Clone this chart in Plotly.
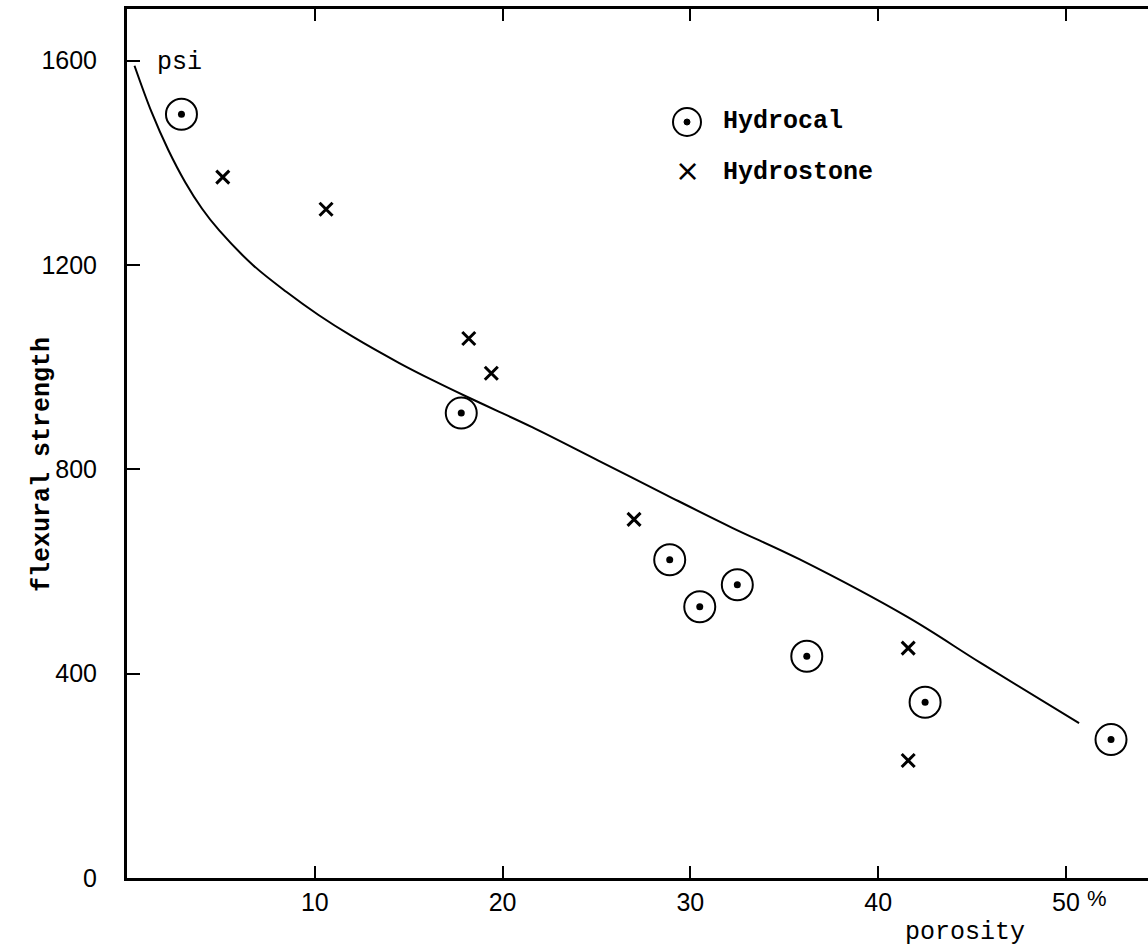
import plotly.graph_objects as go

# Flexural strength (psi) against porosity (%) for two gypsum plasters
hydrocal_x = [2.9, 17.8, 28.9, 30.5, 32.5, 36.2, 42.5, 52.4]
hydrocal_y = [1495, 910, 623, 531, 574, 434, 344, 271]

hydrostone_x = [5.1, 10.6, 18.2, 19.4, 27.0, 41.6, 41.6]
hydrostone_y = [1372, 1309, 1056, 988, 702, 450, 230]

# Hand-fitted trend curve
curve_x = [0.4, 1.3, 2.2, 3.1, 4.0, 4.9, 6.7, 8.5, 10.2, 12.0, 14.5, 16.3,
           18.1, 19.8, 21.6, 25.1, 28.7, 32.2, 35.8, 41.6, 45.5, 50.7]
curve_y = [1590, 1500, 1425, 1362, 1310, 1268, 1200, 1147, 1102, 1060, 1008, 974,
           942, 913, 882, 817, 750, 686, 624, 510, 420, 303]

x_ticks = [10, 20, 30, 40, 50]
y_ticks = [0, 400, 800, 1200, 1600]

MONO = "Liberation Mono"
SANS = "Liberation Sans"
INK = "black"

# plot-area geometry in pixels, used to place the key and the labels
L, T, W, H = 127, 9, 1021, 869


def px(x):
    return (x - L) / W


def py(y):
    return (T + H - y) / H


fig = go.Figure()

fig.add_trace(go.Scatter(
    x=curve_x, y=curve_y, mode="lines",
    line=dict(color=INK, width=2, shape="spline", smoothing=1.0),
    showlegend=False, hoverinfo="skip",
))

# Hydrocal: open circle with a centre dot
fig.add_trace(go.Scatter(
    x=hydrocal_x, y=hydrocal_y, mode="markers", name="Hydrocal",
    marker=dict(symbol="circle-open", size=31, color=INK, line=dict(width=2, color=INK)),
    showlegend=False,
))
fig.add_trace(go.Scatter(
    x=hydrocal_x, y=hydrocal_y, mode="markers",
    marker=dict(symbol="circle", size=7, color=INK),
    showlegend=False, hoverinfo="skip",
))

# Hydrostone: crosses
fig.add_trace(go.Scatter(
    x=hydrostone_x, y=hydrostone_y, mode="markers", name="Hydrostone",
    marker=dict(symbol="x-thin", size=13, color=INK, line=dict(width=3, color=INK)),
    showlegend=False,
))

fig.update_xaxes(
    range=[0, 54.37], showline=True, linecolor=INK, linewidth=3, mirror="ticks",
    ticks="inside", ticklen=12, tickwidth=2, tickcolor=INK,
    tickvals=x_ticks, ticktext=[str(v) for v in x_ticks],
    tickfont=dict(family=SANS, size=25, color=INK), ticklabelstandoff=0,
    showgrid=False, zeroline=False,
)
fig.update_yaxes(
    range=[0, 1701], showline=True, linecolor=INK, linewidth=3, mirror=False,
    ticks="inside", ticklen=13, tickwidth=2, tickcolor=INK,
    tickvals=y_ticks, ticktext=[str(v) for v in y_ticks],
    tickfont=dict(family=SANS, size=25, color=INK), ticklabelstandoff=22,
    showgrid=False, zeroline=False,
)

annotations = [
    dict(text="<b>flexural strength</b>", xref="paper", yref="paper",
         x=px(42), y=py(465), xanchor="center", yanchor="middle",
         textangle=-90, showarrow=False, font=dict(family=MONO, size=25, color=INK)),
    dict(text="porosity", xref="paper", yref="paper",
         x=px(965), y=py(932), xanchor="center", yanchor="middle",
         showarrow=False, font=dict(family=MONO, size=25, color=INK)),
    dict(text="psi", xref="paper", yref="paper",
         x=px(155), y=py(62), xanchor="left", yanchor="middle",
         showarrow=False, font=dict(family=MONO, size=25, color=INK)),
    dict(text="%", xref="paper", yref="paper",
         x=px(1097), y=py(898), xanchor="center", yanchor="middle",
         showarrow=False, font=dict(family=SANS, size=22, color=INK)),
    # key
    dict(text="<b>Hydrocal</b>", xref="paper", yref="paper",
         x=px(721), y=py(122), xanchor="left", yanchor="middle", showarrow=False,
         font=dict(family=MONO, size=25, color=INK)),
    dict(text="×", xref="paper", yref="paper",
         x=px(687), y=py(171), xanchor="center", yanchor="middle", showarrow=False,
         font=dict(family="DejaVu Sans", size=30, color=INK)),
    dict(text="<b>Hydrostone</b>", xref="paper", yref="paper",
         x=px(721), y=py(172), xanchor="left", yanchor="middle", showarrow=False,
         font=dict(family=MONO, size=25, color=INK)),
]

# key symbol for Hydrocal: ring with a dot
R, r = 14, 3
kx, ky = 687, 122
shapes = [
    dict(type="circle", xref="paper", yref="paper",
         x0=px(kx - R), x1=px(kx + R), y0=py(ky + R), y1=py(ky - R),
         line=dict(color=INK, width=2)),
    dict(type="circle", xref="paper", yref="paper",
         x0=px(kx - r), x1=px(kx + r), y0=py(ky + r), y1=py(ky - r),
         line=dict(color=INK, width=1), fillcolor=INK),
]

fig.update_layout(
    width=1148, height=949,
    margin=dict(l=L, r=0, t=T, b=949 - T - H),
    paper_bgcolor="white", plot_bgcolor="white",
    annotations=annotations, shapes=shapes, showlegend=False,
)

fig.write_html("out.html")
